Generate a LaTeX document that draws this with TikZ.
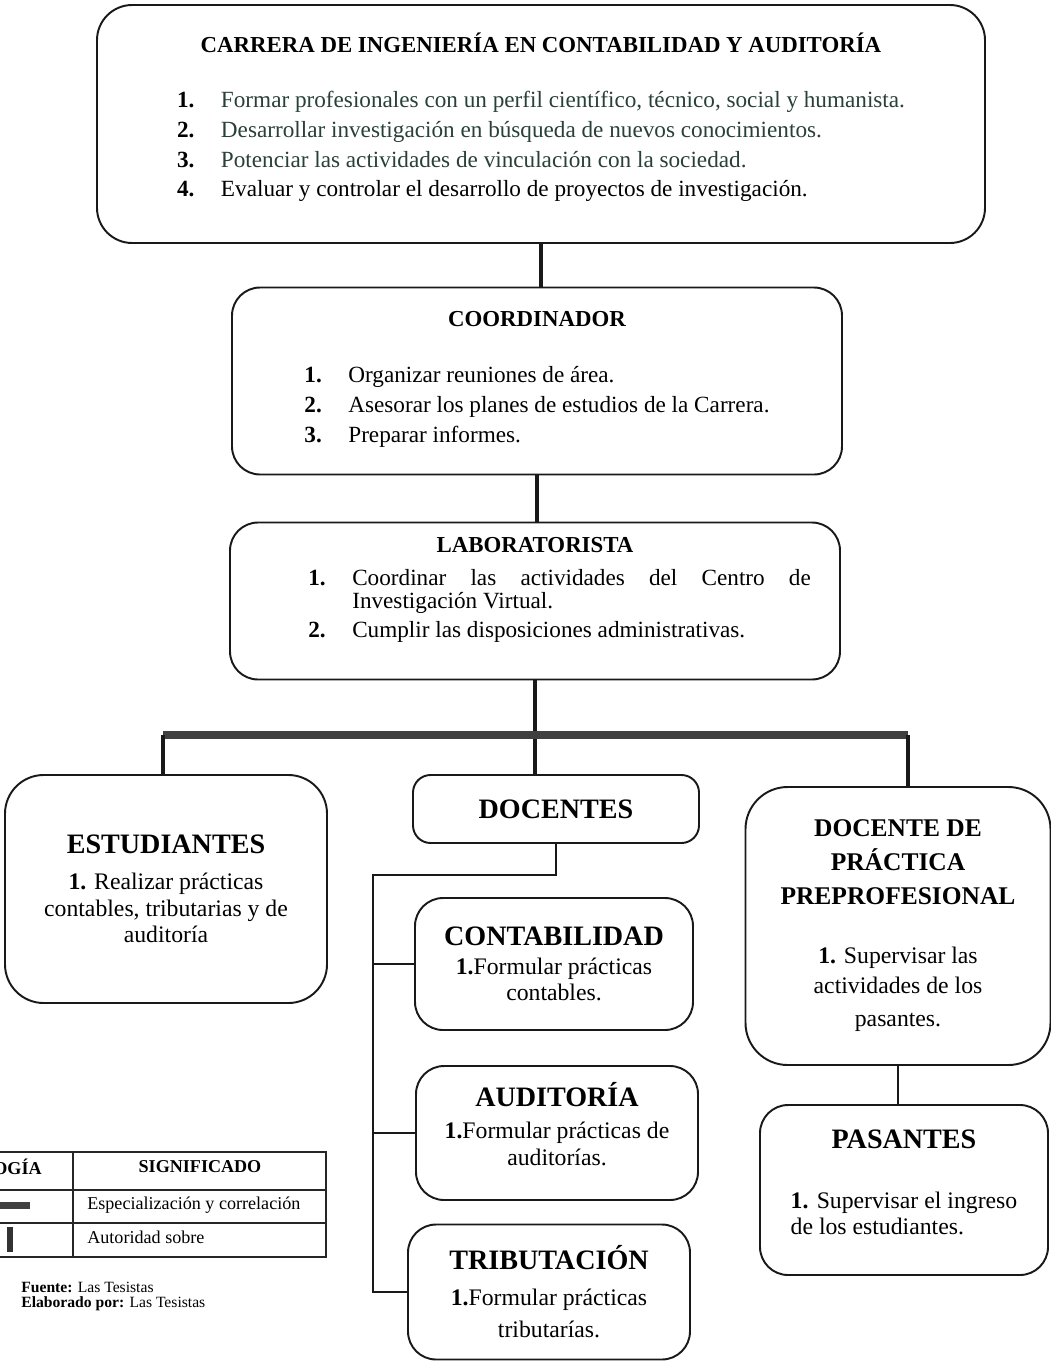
\documentclass[tikz,border=0pt]{standalone}
\usepackage{fontspec}
\setmainfont{Liberation Serif}
\usepackage{array}
\hyphenpenalty=10000
\exhyphenpenalty=10000

\definecolor{verdeosc}{RGB}{40,64,56}
\newcommand{\titulo}[1]{{\fontsize{13}{16}\selectfont\bfseries #1}}
\newcommand{\titulogr}[1]{{\fontsize{16}{19}\selectfont\bfseries #1}}
\newcommand{\titulomd}[1]{{\fontsize{14.5}{17}\selectfont\bfseries #1}}

\tikzset{
  caja/.style={draw=black!90, line width=1.1pt, rounded corners=16pt, align=center,
    inner sep=0pt, font=\fontsize{13.5}{15.3}\selectfont},
  tamano/.style 2 args={minimum width=#1*0.02cm, minimum height=#2*0.02cm},
  mando/.style={draw=black!90, line width=2.3pt},
  mandob/.style={draw=black!90, line width=1.8pt},
  enlace/.style={draw=black!90, line width=1.1pt},
  barra/.style={draw=black!75, line width=4pt},
  leyenda/.style={inner sep=0pt, font=\fontsize{10.3}{12}\selectfont},
  fuente/.style={inner sep=0pt, font=\fontsize{8.9}{10}\selectfont},
}

\begin{document}
\begin{tikzpicture}[x=0.02cm, y=-0.02cm]
  \clip (0,0) rectangle (1051,1363);

  % Nodes
  \node[caja, tamano={888}{238}, rounded corners=20pt, font=\fontsize{13.2}{17}\selectfont] (carrera) at (541,124)
    {\titulo{CARRERA DE INGENIERÍA EN CONTABILIDAD Y AUDITORÍA}\\[14pt]
     \begin{tabular}[t]{@{}p{25pt}@{}l@{}}
       \textbf{1.} & \color{verdeosc}Formar profesionales con un perfil científico, técnico, social y humanista.\\
       \textbf{2.} & \color{verdeosc}Desarrollar investigación en búsqueda de nuevos conocimientos.\\
       \textbf{3.} & \color{verdeosc}Potenciar las actividades de vinculación con la sociedad.\\
       \textbf{4.} & Evaluar y controlar el desarrollo de proyectos de investigación.\\[5pt]
     \end{tabular}};
  \node[caja, tamano={610}{187}, font=\fontsize{13.2}{17}\selectfont] (coord) at (537,381)
    {\titulo{COORDINADOR}\\[15pt]
     \begin{tabular}[t]{@{}p{25pt}@{}l@{}}
       \textbf{1.} & Organizar reuniones de área.\\
       \textbf{2.} & Asesorar los planes de estudios de la Carrera.\\
       \textbf{3.} & Preparar informes.
     \end{tabular}};
  \node[caja, tamano={610}{157}, font=\fontsize{13.2}{13.5}\selectfont] (lab) at (535,601)
    {\titulo{LABORATORISTA}\\[5pt]
     \hspace*{28pt}\begin{tabular}[t]{@{}p{25pt}@{}p{261pt}@{}}
       \textbf{1.} & Coordinar las actividades del Centro de Investigación Virtual.\\\noalign{\vspace{3pt}}
       \textbf{2.} & Cumplir las disposiciones administrativas.\\[11pt]
     \end{tabular}};

  \node[caja, tamano={322}{228}, rounded corners=22pt] (estud) at (166,889)
    {\titulogr{ESTUDIANTES}\\[5pt]
     \textbf{1.} Realizar prácticas\\
     contables, tributarias y de\\
     auditoría};
  \node[caja, tamano={286}{68}, rounded corners=10pt] (docentes) at (556,809)
    {\titulogr{DOCENTES}};
  \node[caja, tamano={278}{132}] (conta) at (554,964)
    {\titulogr{CONTABILIDAD}\\[1pt]
     \textbf{1.}Formular prácticas\\
     contables.};
  \node[caja, tamano={282}{134}] (audit) at (557,1133)
    {\titulogr{AUDITORÍA}\\[3pt]
     \textbf{1.}Formular prácticas de\\[0pt]
     auditorías.\rule[-10pt]{0pt}{1pt}};
  \node[caja, tamano={282}{135}] (tribut) at (549,1292)
    {\titulogr{TRIBUTACIÓN}\\[5pt]
     \textbf{1.}Formular prácticas\\[3pt]
     tributarías.};
  \node[caja, tamano={305}{278}, rounded corners=24pt] (practica) at (898,926)
    {\titulomd{DOCENTE DE}\\[4pt]
     \titulomd{PRÁCTICA}\\[4pt]
     \titulomd{PREPROFESIONAL}\\[18pt]
     \textbf{1.} Supervisar las\\[1.7pt]
     actividades de los\\[4pt]
     pasantes.};
  \node[caja, tamano={288}{170}] (pasantes) at (904,1190)
    {\titulogr{PASANTES}\\[19pt]
     \parbox[t]{129pt}{\fontsize{13.5}{14.7}\selectfont\textbf{1.} Supervisar el ingreso de los estudiantes.\par\vspace{9pt}}};

  % Coordinates
  \coordinate (barL) at (163,735);
  \coordinate (barR) at (908,735);
  \coordinate (ramal) at (373,875);

  % Edges
  \draw[mando] (carrera.south) -- (carrera.south |- coord.north);
  \draw[mando] (coord.south) -- (coord.south |- lab.north);
  \draw[mandob] (lab.south) -- (lab.south |- docentes.north);
  \draw[barra] (barL) -- (barR);
  \draw[mandob] (barL) -- (barL |- estud.north);
  \draw[mandob] (barR) -- (barR |- practica.north);
  \draw[enlace] (docentes.south) |- (ramal) -- (ramal |- tribut.west) -- (tribut.west);
  \draw[enlace] (ramal |- conta.west) -- (conta.west);
  \draw[enlace] (ramal |- audit.west) -- (audit.west);
  \draw[enlace] (practica.south) -- (practica.south |- pasantes.north);

  % Legend
  \draw[black!85, line width=0.6pt] (-100,1152) -- (326,1152) -- (326,1257) -- (-100,1257);
  \draw[black!85, line width=0.6pt] (-100,1190) -- (326,1190);
  \draw[black!85, line width=0.6pt] (-100,1223) -- (326,1223);
  \draw[black!85, line width=0.6pt] (73,1152) -- (73,1257);
  \node[leyenda, anchor=east, font=\fontsize{10.3}{12}\selectfont\bfseries] (simb) at (42,1167) {SIMBOLOGÍA};
  \node[leyenda, font=\fontsize{10.3}{12}\selectfont\bfseries] (signif) at (200,1167) {SIGNIFICADO};
  \node[leyenda, anchor=west] (espec) at (87,1205) {Especialización y correlación};
  \node[leyenda, anchor=west] (autor) at (87,1237) {Autoridad sobre};
  \draw[barra] (-5,1205) -- (30,1205);
  \draw[draw=black!80, line width=3pt] (10,1227) -- (10,1252);
  \node[fuente, anchor=west] (fuente) at (21,1287) {\textbf{Fuente:} Las Tesistas};
  \node[fuente, anchor=west] (elab) at (21,1304) {\textbf{Elaborado por:} Las Tesistas};
\end{tikzpicture}
\end{document}
